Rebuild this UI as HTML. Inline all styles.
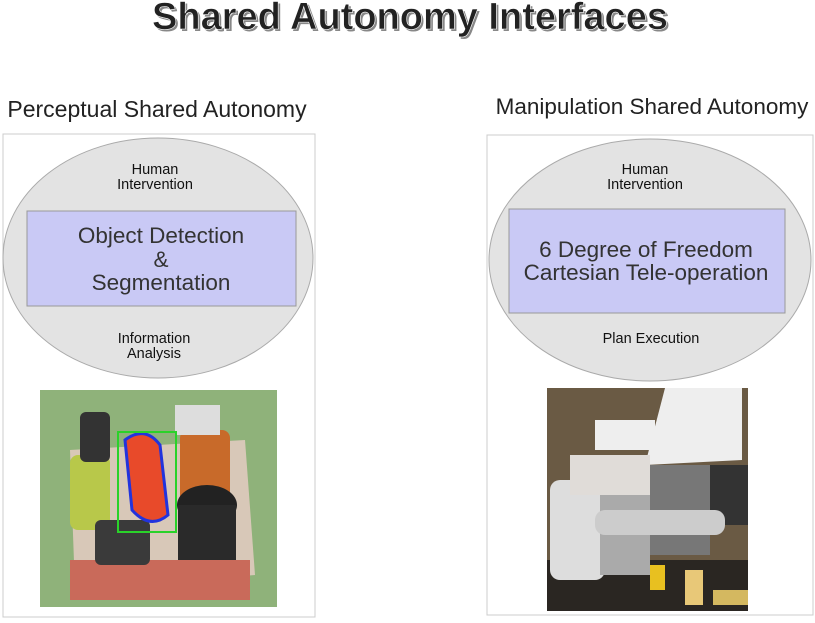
<!DOCTYPE html>
<html><head><style>
body{margin:0;background:#fff;width:815px;height:618px;overflow:hidden}
</style></head><body>
<svg width="815" height="618" xmlns="http://www.w3.org/2000/svg" font-family="Liberation Sans, sans-serif">
<text x="412" y="31" text-anchor="middle" font-size="38" font-weight="bold" fill="#888">Shared Autonomy Interfaces</text>
<text x="410" y="29" text-anchor="middle" font-size="38" font-weight="bold" fill="#222" stroke="#fff" stroke-width="0.6">Shared Autonomy Interfaces</text>
<text x="157" y="117" text-anchor="middle" font-size="23" fill="#222">Perceptual Shared Autonomy</text>
<text x="652" y="114" text-anchor="middle" font-size="22.5" fill="#222">Manipulation Shared Autonomy</text>
<!-- left panel -->
<rect x="3" y="134" width="312" height="483" fill="#fff" stroke="#ccc"/>
<ellipse cx="158" cy="258" rx="155" ry="120" fill="#e3e3e3" stroke="#aaa"/>
<rect x="27" y="211" width="269" height="95" fill="#c9c9f5" stroke="#999"/>
<text x="155" y="174" text-anchor="middle" font-size="14.5" fill="#111">Human</text>
<text x="155" y="189" text-anchor="middle" font-size="14.5" fill="#111">Intervention</text>
<text x="161" y="243" text-anchor="middle" font-size="22.5" fill="#333">Object Detection</text>
<text x="161" y="267" text-anchor="middle" font-size="22.5" fill="#333">&amp;</text>
<text x="161" y="290" text-anchor="middle" font-size="22.5" fill="#333">Segmentation</text>
<text x="154" y="343" text-anchor="middle" font-size="14.5" fill="#111">Information</text>
<text x="154" y="358" text-anchor="middle" font-size="14.5" fill="#111">Analysis</text>
<!-- left photo -->
<rect x="40" y="390" width="237" height="217" fill="#8fb27a"/>
<polygon points="70,450 245,440 255,575 75,590" fill="#d8c8b8"/>
<rect x="70" y="560" width="180" height="40" fill="#c96a5a"/>
<rect x="70" y="455" width="40" height="75" fill="#b8c84a" rx="8"/>
<rect x="80" y="412" width="30" height="50" fill="#333" rx="6"/>
<rect x="180" y="430" width="50" height="85" fill="#c86a2a" rx="8"/>
<rect x="175" y="405" width="45" height="30" fill="#ddd"/>
<ellipse cx="207" cy="505" rx="30" ry="20" fill="#222"/>
<rect x="178" y="505" width="58" height="55" fill="#2a2a2a"/>
<rect x="95" y="520" width="55" height="45" fill="#3a3a3a" rx="6"/>
<path d="M125,440 Q145,425 160,445 L168,515 Q150,530 132,510 Z" fill="#e84a2a" stroke="#2233dd" stroke-width="3"/>
<rect x="118" y="432" width="58" height="100" fill="none" stroke="#2ad22a" stroke-width="2"/>
<!-- right panel -->
<rect x="487" y="135" width="326" height="480" fill="#fff" stroke="#ccc"/>
<ellipse cx="650" cy="260" rx="161" ry="121" fill="#e3e3e3" stroke="#aaa"/>
<rect x="509" y="209" width="276" height="104" fill="#c9c9f5" stroke="#999"/>
<text x="645" y="174" text-anchor="middle" font-size="14.5" fill="#111">Human</text>
<text x="645" y="189" text-anchor="middle" font-size="14.5" fill="#111">Intervention</text>
<text x="646" y="257" text-anchor="middle" font-size="22.5" fill="#333">6 Degree of Freedom</text>
<text x="646" y="280" text-anchor="middle" font-size="22.5" fill="#333">Cartesian Tele-operation</text>
<text x="651" y="343" text-anchor="middle" font-size="14.5" fill="#111">Plan Execution</text>
<!-- right photo -->
<rect x="547" y="388" width="201" height="223" fill="#6a5a44"/>
<polygon points="665,388 742,388 742,460 645,465" fill="#eee"/>
<rect x="710" y="465" width="38" height="60" fill="#333"/>
<rect x="640" y="465" width="70" height="90" fill="#777"/>
<rect x="547" y="560" width="201" height="51" fill="#2a2622"/>
<rect x="550" y="480" width="55" height="100" fill="#ddd" rx="10"/>
<rect x="600" y="475" width="50" height="100" fill="#aaa"/>
<rect x="570" y="455" width="80" height="40" fill="#e0dcd8"/>
<rect x="595" y="420" width="60" height="30" fill="#eee"/>
<rect x="595" y="510" width="130" height="25" fill="#ccc" rx="10"/>
<rect x="650" y="565" width="15" height="25" fill="#e8c020"/>
<rect x="685" y="570" width="18" height="35" fill="#e8c878"/>
<rect x="713" y="590" width="35" height="15" fill="#d4b860"/>
</svg>
</body></html>
